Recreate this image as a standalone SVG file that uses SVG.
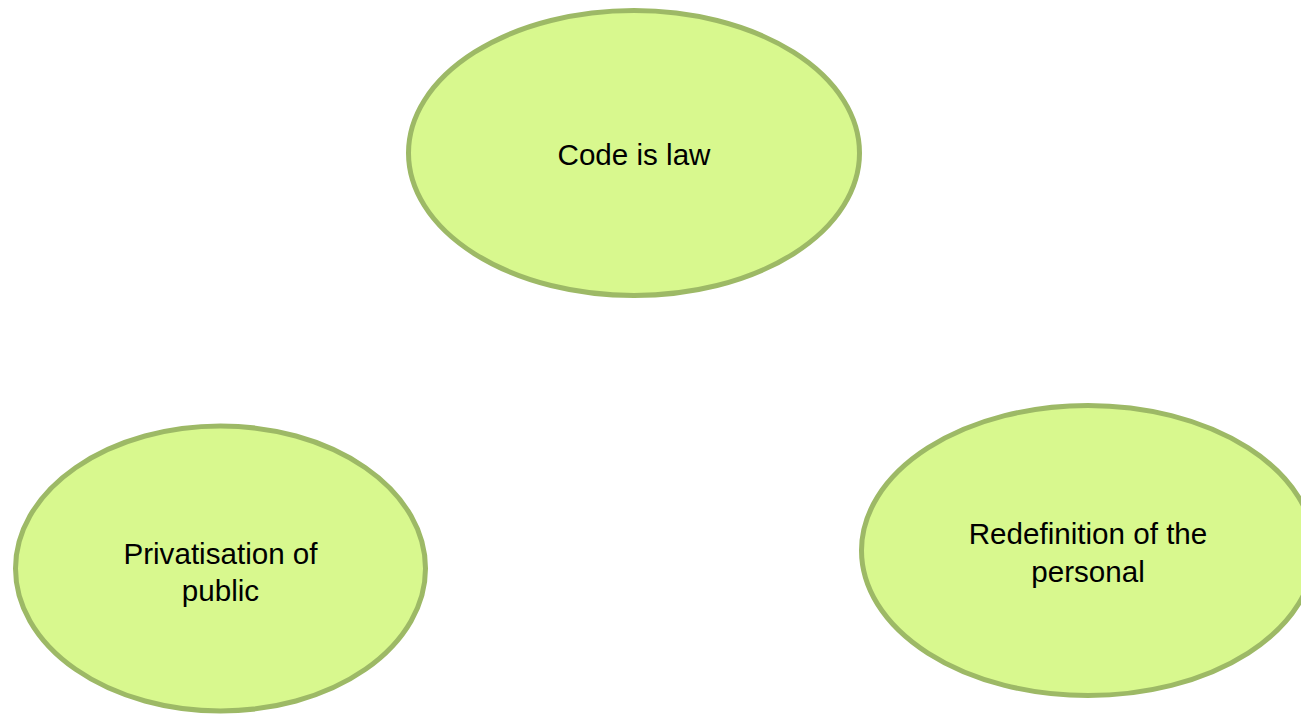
<svg xmlns="http://www.w3.org/2000/svg" width="1301" height="716" viewBox="0 0 1301 716">
<style>
.node ellipse{fill:#d8f88e;stroke:#9db966;stroke-width:5}
.node text{font-family:"Liberation Sans",Arial,sans-serif;font-size:29.6px;fill:#000;text-anchor:middle}
</style>
<rect width="1301" height="716" fill="#ffffff"/>
<g id="connectors"></g>
<g id="code-is-law" class="node">
<ellipse cx="634" cy="153" rx="225.5" ry="142.5"/>
<text x="634" y="165">Code is law</text>
</g>
<g id="privatisation" class="node">
<ellipse cx="220.5" cy="568.5" rx="205" ry="142.5"/>
<text x="220.5" y="563.5">Privatisation of</text>
<text x="220.5" y="600.5">public</text>
</g>
<g id="redefinition" class="node">
<ellipse cx="1088" cy="550.5" rx="226.5" ry="145"/>
<text x="1088" y="543.5">Redefinition of the</text>
<text x="1088" y="581.5">personal</text>
</g>
</svg>
